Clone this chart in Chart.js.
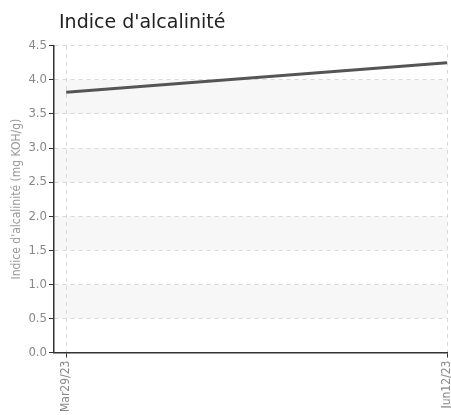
<!DOCTYPE html>
<html>
<head>
<meta charset="utf-8">
<script src="https://cdn.jsdelivr.net/npm/chart.js@4.4.0/dist/chart.umd.min.js"></script>
<style>
  html, body { margin: 0; padding: 0; background: #fff; }
  #wrap { width: 451px; height: 415px; }
</style>
</head>
<body>
<div id="wrap"><canvas id="lineChart"></canvas></div>
<script>
const CHART = document.getElementById('lineChart')

// data
const dateLabels = ['Mar29/23', 'Jun12/23']
const dayNumbers = [0, 75]
const alcalinite = [3.82, 4.25]
const yTicks = [0, 0.5, 1, 1.5, 2, 2.5, 3, 3.5, 4, 4.5]

const narrow = "'Liberation Sans Narrow', 'DejaVu Sans Condensed', sans-serif"

// grey bands between every other gridline
const bands = {
  id: 'bands',
  afterLayout (chart) {
    chart.titleBlock.left += 5
  },
  beforeDraw (chart) {
    const { ctx, chartArea, scales } = chart
    const y = scales.y
    ctx.save()
    ctx.fillStyle = '#f7f7f7'
    for (let i = 1; i < yTicks.length - 1; i += 2) {
      const top = y.getPixelForValue(yTicks[i + 1])
      const bottom = y.getPixelForValue(yTicks[i])
      ctx.fillRect(chartArea.left, top, chartArea.right - chartArea.left, bottom - top)
    }
    ctx.restore()
  }
}

let lineChart = new Chart(CHART, {
  type: 'line',
  data: {
    datasets: [
      {
        label: "Indice d'alcalinité",
        borderColor: '#555555',
        backgroundColor: '#555555',
        borderWidth: 3,
        pointRadius: 0,
        data: dayNumbers.map((d, i) => ({ x: d, y: alcalinite[i] }))
      }
    ]
  },
  options: {
    responsive: true,
    maintainAspectRatio: false,
    animation: false,
    layout: { padding: 0 },
    plugins: {
      legend: { display: false },
      tooltip: { enabled: false },
      title: {
        display: true,
        text: "Indice d'alcalinité",
        align: 'start',
        fullSize: false,
        color: '#222',
        font: { family: "'DejaVu Sans', sans-serif", size: 19, weight: 'normal' },
        padding: { top: 12, bottom: 11 }
      }
    },
    scales: {
      x: {
        type: 'linear',
        min: -2.4,
        max: 75,
        afterBuildTicks (scale) {
          scale.ticks = dayNumbers.map(v => ({ value: v }))
        },
        afterFit (scale) {
          scale.paddingRight = 4
        },
        ticks: {
          autoSkip: false,
          maxRotation: 90,
          minRotation: 90,
          color: '#888',
          padding: 3,
          font: { family: narrow, size: 12 },
          callback: (v) => dateLabels[dayNumbers.indexOf(v)]
        },
        grid: {
          color: '#d8d8d8',
          tickColor: '#333',
          tickBorderDash: [],
          tickLength: 5
        },
        border: { color: '#333', width: 1.5, dash: [4, 4] }
      },
      y: {
        min: 0,
        max: 4.5,
        afterBuildTicks (scale) {
          scale.ticks = yTicks.map(v => ({ value: v }))
        },
        afterFit (scale) {
          scale.width = 54
        },
        ticks: {
          color: '#888',
          padding: 2,
          font: { family: narrow, size: 13 },
          callback: (v) => v.toFixed(1)
        },
        grid: {
          color: '#d8d8d8',
          tickColor: '#333',
          tickBorderDash: [],
          tickLength: 5
        },
        border: { color: '#333', width: 1.5, dash: [4, 4] },
        title: {
          display: true,
          text: "Indice d'alcalinité (mg KOH/g)",
          color: '#999',
          font: { family: narrow, size: 12 },
          padding: { top: 10, bottom: 0 }
        }
      }
    }
  },
  plugins: [bands]
})
</script>
</body>
</html>
